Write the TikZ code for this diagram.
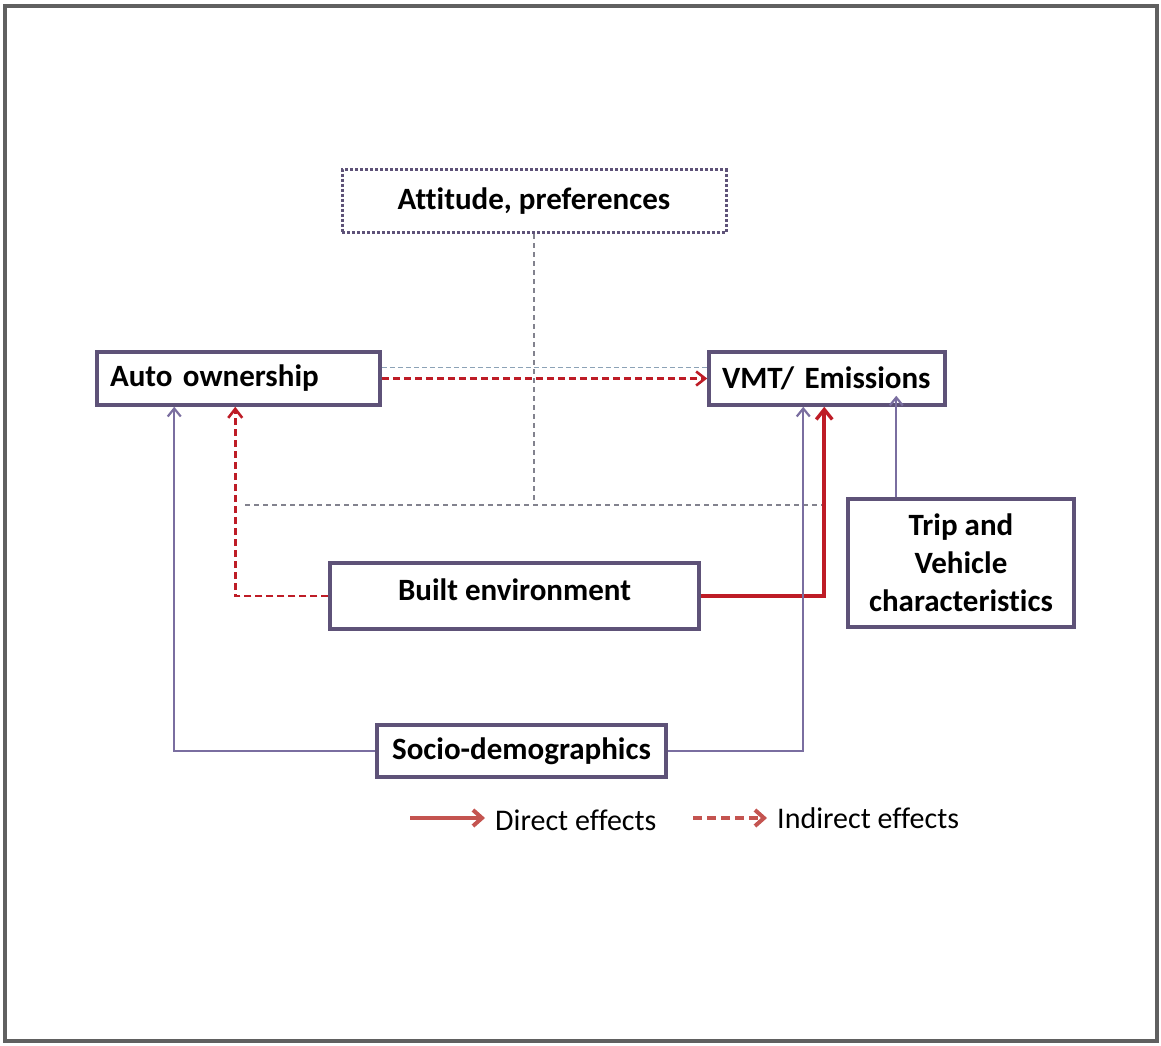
\documentclass[tikz,border=0pt]{standalone}
\usepackage{fontspec}
\setmainfont{Carlito}[Ligatures=NoCommon]
\usetikzlibrary{arrows.meta,calc}
\definecolor{boxc}{RGB}{94,82,120}
\definecolor{purp}{RGB}{122,110,160}
\definecolor{redd}{RGB}{190,28,38}
\definecolor{legred}{RGB}{196,84,80}
\definecolor{grayd}{RGB}{130,130,142}
\definecolor{bluegray}{RGB}{140,162,182}
\definecolor{framec}{RGB}{96,96,96}
\begin{document}
\begin{tikzpicture}[x=1pt,y=-1pt,
  box/.style={draw=boxc,line width=3.5pt,fill=white,rectangle,font=\fontsize{31}{38}\selectfont\bfseries,inner sep=0pt},
  attbox/.style={draw=boxc,line width=3pt,dotted,fill=white,rectangle,font=\fontsize{31}{38}\selectfont\bfseries,inner sep=0pt},
  purparrow/.style={draw=purp,line width=2.4pt,-{Straight Barb[length=8pt,width=13pt,line width=2.2pt]}},
  indarrow/.style={draw=redd,line width=2.8pt,dash pattern=on 7pt off 4pt,-{Straight Barb[length=9pt,width=14pt,line width=2.6pt]}},
  dirarrow/.style={draw=redd,line width=3.6pt,-{Straight Barb[length=10pt,width=16pt,line width=3.4pt]}},
  graydash/.style={draw=grayd,line width=1.6pt,dash pattern=on 5pt off 4pt},
  legdir/.style={draw=legred,line width=4.5pt,-{Straight Barb[length=9pt,width=16pt,line width=4pt]}},
  legind/.style={draw=legred,line width=4.5pt,dash pattern=on 9pt off 5pt,-{Straight Barb[length=9pt,width=16pt,line width=4pt]}},
  legtext/.style={font=\fontsize{30}{36}\selectfont,anchor=west,inner sep=0pt}
]
\useasboundingbox (0,0) rectangle (1161,1045);
\draw[framec,line width=4.5pt] (5,6) rectangle (1157,1041);

% nodes
\node[attbox,minimum width=384pt,minimum height=63pt] (att) at (534,201) {Attitude, preferences};
\node[box,minimum height=53pt,text width=257pt,inner xsep=13pt,align=left] (auto) at (238.5,378.5) {Auto ownership};
\node[box,minimum height=53pt,text width=210pt,inner xsep=13pt,align=left] (vmt) at (827,378.5) {VMT/ Emissions};
\node[box,minimum width=226pt,minimum height=128pt,align=center] (trip) at (961,563) {Trip and\\Vehicle\\characteristics};
\node[box,minimum width=369pt,minimum height=66pt] (built) at (514.5,596) {\raisebox{12pt}{Built environment}};
\node[box,minimum width=289pt,minimum height=52pt] (socio) at (521.5,751) {Socio-demographics};

% attitude links
\coordinate (jl) at (245,505);
\coordinate (jr) at (826,505);
\draw[graydash] (att.south) -- (att.south |- jl);
\draw[graydash] (jl) -- (jr);
\draw[draw=bluegray,line width=1.5pt,dash pattern=on 5pt off 3pt] ([yshift=11pt]auto.east) -- ([yshift=11pt]vmt.west);

% auto -> vmt
\draw[indarrow] (auto.east) -- (vmt.west);

% built environment
\draw[indarrow] (built.west) -| ([xshift=140pt]auto.south west);
\draw[dirarrow] (built.east) -| ([xshift=117pt]vmt.south west);

% socio-demographics
\draw[purparrow] (socio.west) -| ([xshift=79pt]auto.south west);
\draw[purparrow] (socio.east) -| ([xshift=96pt]vmt.south west);

% trip
\draw[purparrow] ([xshift=50pt]trip.north west) -- ([xshift=50pt,yshift=11pt]trip.north west |- vmt.south);

% legend
\coordinate (l1a) at (410,818);
\coordinate (l1b) at (485,818);
\coordinate (l2a) at (693,818);
\coordinate (l2b) at (767,818);
\draw[legdir] (l1a) -- (l1b);
\node[legtext] (ldir) at (495,820) {Direct effects};
\draw[legind] (l2a) -- (l2b);
\node[legtext] (lind) at (777,818) {Indirect effects};
\end{tikzpicture}
\end{document}
